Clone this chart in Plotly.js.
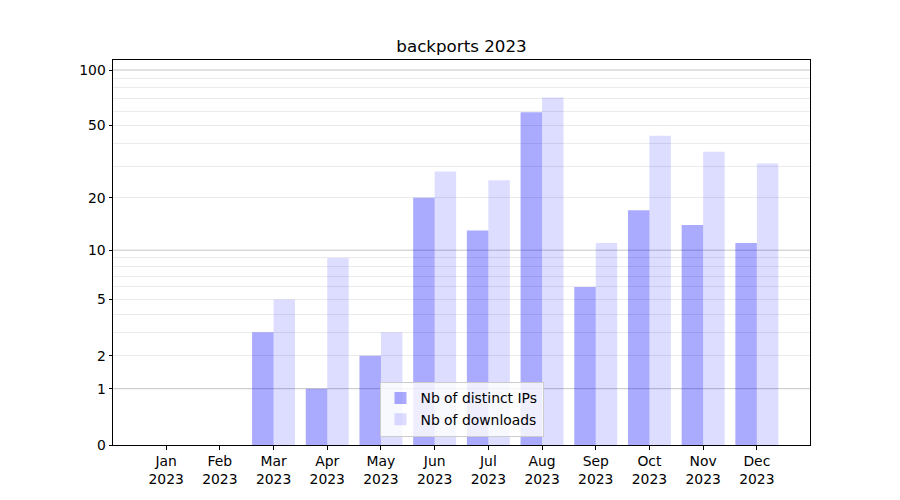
<!DOCTYPE html>
<html>
<head>
<meta charset="utf-8">
<script src="https://cdn.plot.ly/plotly-3.0.1.min.js"></script>
<style>html,body{margin:0;padding:0;background:#fff}#chart{width:900px;height:500px}</style>
</head>
<body>
<div id="chart"></div>
<script>
const months = ['Jan','Feb','Mar','Apr','May','Jun','Jul','Aug','Sep','Oct','Nov','Dec'];
const year = '2023';
const distinctIPs = [0, 0, 3, 1, 2, 20, 13, 59, 6, 17, 14, 11];
const downloads   = [0, 0, 5, 9, 3, 28, 25, 71, 11, 44, 36, 31];
const yTickValues = [0, 1, 2, 5, 10, 20, 50, 100];
const majorGridValues = [1, 10, 100];
const minorGridValues = [2, 3, 4, 5, 6, 7, 8, 9, 20, 30, 40, 50, 60, 70, 80, 90];

// y axis is log(1 + y): plot y+1 on a log axis
const shift = v => v + 1;
const cats = months.map(m => m + '<br>' + year);

const font = {family: 'DejaVu Sans, sans-serif', size: 13.9, color: '#000'};

const traces = [
  {type: 'bar', name: 'Nb of distinct IPs', x: cats, y: distinctIPs.map(shift),
   marker: {color: 'rgba(0,0,255,0.333)'}, hoverinfo: 'skip'},
  {type: 'bar', name: 'Nb of downloads', x: cats, y: downloads.map(shift),
   marker: {color: 'rgba(0,0,255,0.135)'}, hoverinfo: 'skip'}
];

const yRange = [0, 2.058];

// major grid lines
const majorGrid = majorGridValues.map(v => ({
  type: 'line', xref: 'paper', x0: 0, x1: 1, yref: 'y',
  y0: shift(v), y1: shift(v),
  layer: 'below', line: {color: '#c4c4c4', width: 1}
}));

const layout = {
  width: 900, height: 500,
  margin: {l: 113, r: 90, t: 60, b: 55, pad: 0},
  paper_bgcolor: '#fff', plot_bgcolor: 'rgba(0,0,0,0)',
  font: font,
  title: {text: 'backports 2023', font: {family: font.family, size: 16.7, color: '#000'},
          x: 0.5, xref: 'paper', xanchor: 'center', y: 1 - 46/500, yref: 'container', yanchor: 'middle'},
  barmode: 'group', bargap: 0.2, bargroupgap: 0,
  showlegend: true,
  legend: {x: 0.5, xanchor: 'center', y: 0.022, yanchor: 'bottom',
           bgcolor: 'rgba(255,255,255,0.8)', bordercolor: '#cccccc', borderwidth: 1,
           font: font, tracegroupgap: 0},
  shapes: majorGrid,
  xaxis: {type: 'category', range: [-0.99, 11.99], showgrid: false, zeroline: false,
          showline: true, mirror: true, linecolor: '#000', linewidth: 1,
          ticks: 'outside', ticklen: 3.5, tickwidth: 1, tickcolor: '#000', tickfont: font},
  yaxis: {type: 'log', range: yRange, showgrid: false, zeroline: false,
          tickmode: 'array', tickvals: yTickValues.map(shift), ticktext: yTickValues.map(String),
          showline: true, mirror: true, linecolor: '#000', linewidth: 1,
          ticks: 'outside', ticklen: 3.5, tickwidth: 1, tickcolor: '#000', tickfont: font,
          minor: {tickmode: 'array', tickvals: minorGridValues.map(shift), showgrid: true,
                  gridcolor: '#ebebeb', gridwidth: 1, ticks: ''}}
};

Plotly.newPlot('chart', traces, layout, {staticPlot: true, displayModeBar: false});
</script>
</body>
</html>
